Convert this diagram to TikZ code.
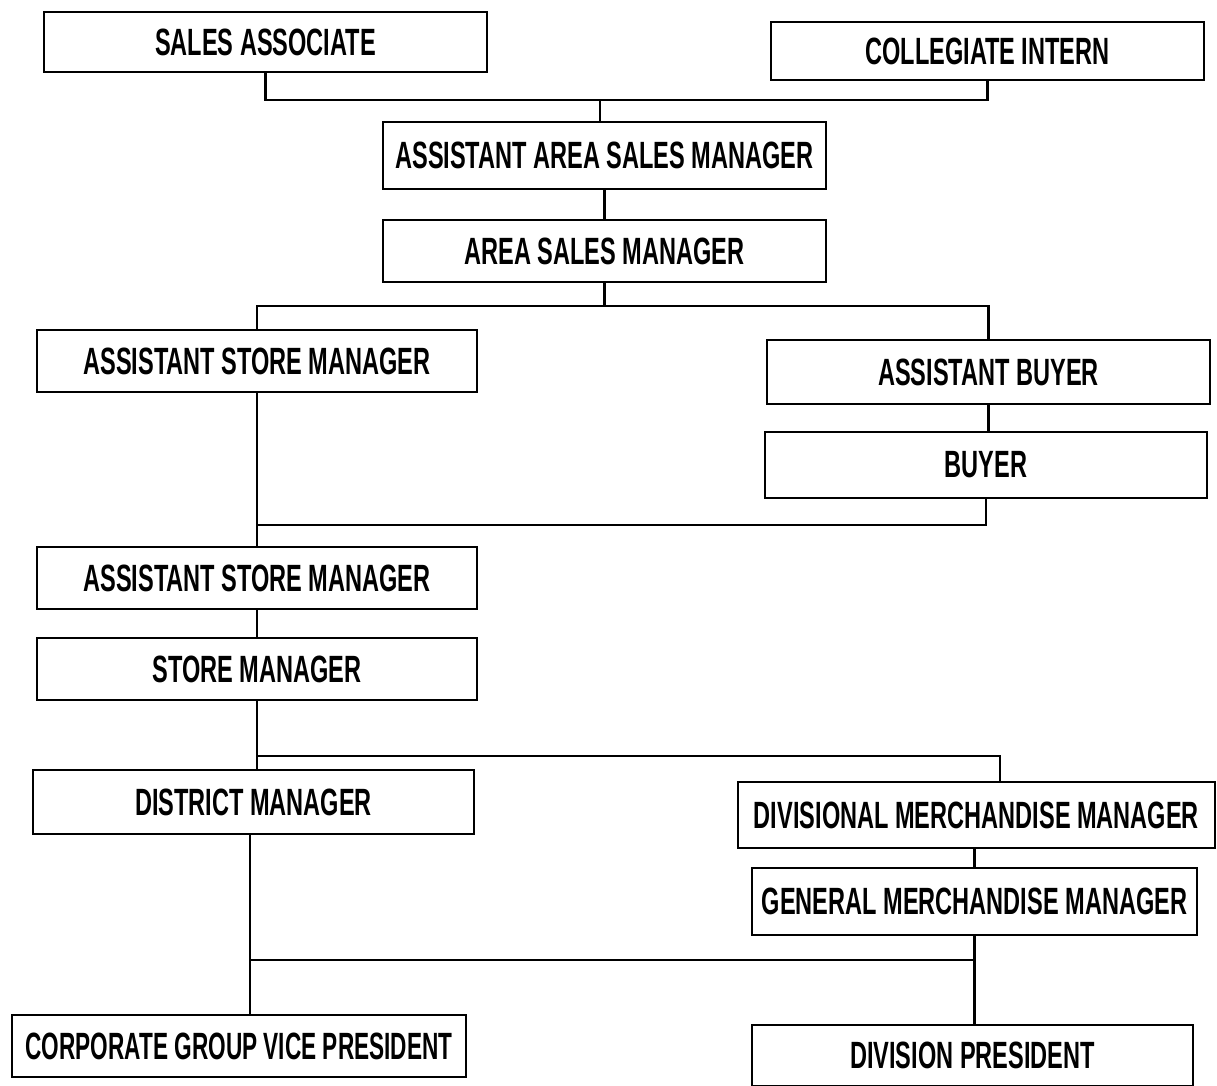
\documentclass[tikz,border=0pt]{standalone}
\usepackage{fontspec}
\setmainfont{Liberation Sans}[FakeStretch=0.62]
\usetikzlibrary{calc, positioning}
\tikzset{OrgChart/.style={
    x = 0.5pt, y = -0.5pt,
    line width = 1.1pt,
    base/.style = {draw, line width=1.2pt, inner sep=0pt, align=center,
                   font=\fontsize{19pt}{22pt}\selectfont\bfseries},
    post/.style = {base},
    boxsize/.style 2 args = {minimum width=##1*0.5pt, minimum height=##2*0.5pt}
}}

\begin{document}
\begin{tikzpicture}[OrgChart]
        \useasboundingbox (0,0) rectangle (1217,1086);

        \node [post, boxsize={443}{60}] (assoc)  at (265.5,42)   {SALES ASSOCIATE};
        \node [post, boxsize={433}{58}] (intern) at (987.5,51)   {COLLEGIATE INTERN};
        \node [post, boxsize={443}{67}] (aasm)   at (604.5,155.5) {ASSISTANT AREA SALES MANAGER};
        \node [post, boxsize={443}{62}] (asm)    at (604.5,251)  {AREA SALES MANAGER};
        \node [post, boxsize={440}{62}] (astm-1) at (257,361)    {ASSISTANT STORE MANAGER};
        \node [post, boxsize={443}{64}] (abuy)   at (988.5,372)  {ASSISTANT BUYER};
        \node [post, boxsize={442}{66}] (buyer)  at (986,465)    {BUYER};
        \node [post, boxsize={440}{62}] (astm-2) at (257,578)    {ASSISTANT STORE MANAGER};
        \node [post, boxsize={440}{62}] (stm)    at (257,669)    {STORE MANAGER};
        \node [post, boxsize={441}{64}] (dm)     at (253.5,802)  {DISTRICT MANAGER};
        \node [post, boxsize={477}{66}] (dmm)    at (976.5,815)  {DIVISIONAL MERCHANDISE MANAGER};
        \node [post, boxsize={445}{67}] (gmm)    at (974.5,901.5) {GENERAL MERCHANDISE MANAGER};
        \node [post, boxsize={454}{62}] (cgvp)   at (239,1046)   {\scalebox{0.96}[1]{CORPORATE GROUP VICE PRESIDENT}};
        \node [post, boxsize={441}{61}] (dp)     at (972.5,1055.5) {DIVISION PRESIDENT};

        % junctions
        \coordinate (j1) at (600,100);
        \coordinate (j2) at (604.5,306);
        \coordinate (j3) at (257,525);
        \coordinate (j4) at (1000,756);
        \coordinate (j5) at (250,960);

        \draw (assoc.south) |- (j1) -| (intern.south);
        \draw (j1) -- (j1 |- aasm.north);
        \draw (aasm.south) -- (asm.north);
        \draw (asm.south) -- (j2);
        \draw (astm-1.north) |- (j2) -| (abuy.north);
        \draw (abuy.south) -- (abuy.south |- buyer.north);
        \draw (astm-1.south) -- (astm-2.north);
        \draw (buyer.south) |- (j3);
        \draw (astm-2.south) -- (stm.north);
        \draw (stm.south) -- (stm.south |- dm.north);
        \draw (stm.south |- j4) -- (j4) -- (j4 |- dmm.north);
        \draw (dmm.south -| gmm.north) -- (gmm.north);
        \draw (j5 |- dm.south) -- (j5 |- cgvp.north);
        \draw (j5) -- (j5 -| gmm.south);
        \draw (gmm.south) -- (gmm.south |- dp.north);
    \end{tikzpicture}
\end{document}
